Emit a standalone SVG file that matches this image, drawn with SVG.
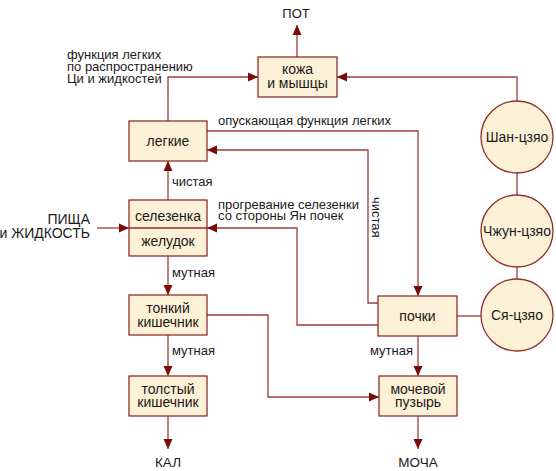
<svg xmlns="http://www.w3.org/2000/svg" width="556" height="471" viewBox="0 0 556 471">
<defs>
<marker id="arr" markerUnits="userSpaceOnUse" markerWidth="10" markerHeight="10" refX="10" refY="5" orient="auto">
<path d="M0,0.5 L10,5 L0,9.5 z" fill="#7a0a0a"/>
</marker>
<style>
.box{fill:#fcf1d6;stroke:#8f2f2f;stroke-width:1.3}
.c{fill:none;stroke:#9e3c3c;stroke-width:1.3}
.a{marker-end:url(#arr)}
text{font-family:"Liberation Sans",Arial,sans-serif;fill:#1a1a1a}
.n{font-size:14px;text-anchor:middle}
.l{font-size:13px}
.o{font-size:13.5px;text-anchor:middle}
.big{font-size:14px}
</style>
</defs>
<rect width="556" height="471" fill="#ffffff"/>
<g id="connectors">
<path class="c a" d="M297,57 V25"/>
<path class="c a" d="M517,101 V77 H337"/>
<path class="c a" d="M168,121 V77 H258"/>
<path class="c a" d="M207,131 H418 V296"/>
<path class="c a" d="M378,303 H368 V150 H207"/>
<path class="c a" d="M378,325 H297 V228 H207"/>
<path class="c a" d="M97,228 H129"/>
<path class="c a" d="M168,200 V161"/>
<path class="c a" d="M168,256 V295"/>
<path class="c a" d="M168,335 V376"/>
<path class="c a" d="M168,416 V449"/>
<path class="c a" d="M207,315 H268 V397 H379"/>
<path class="c a" d="M418,336 V376"/>
<path class="c a" d="M418,416 V449"/>
<path class="c" d="M457,316 H481"/>
<path class="c" d="M517,173 V195"/>
<path class="c" d="M517,267 V279"/>
<text class="l" x="67" y="59">функция легких</text>
<text class="l" x="67" y="71">по распространению</text>
<text class="l" x="67" y="83">Ци и жидкостей</text>
<text class="l" x="218" y="125">опускающая функция легких</text>
<text class="l" x="172" y="186">чистая</text>
<text class="l" x="218" y="208.5">прогревание селезенки</text>
<text class="l" x="218" y="220">со стороны Ян почек</text>
<text class="l" transform="translate(372,197) rotate(90)">чистая</text>
<text class="l" x="172" y="277">мутная</text>
<text class="l" x="172" y="355">мутная</text>
<text class="l" x="413" y="355" text-anchor="end">мутная</text>
<text class="big" x="90" y="224" text-anchor="end">ПИЩА</text>
<text class="big" x="90" y="238" text-anchor="end">и ЖИДКОСТЬ</text>
<text class="o" x="296" y="18" style="font-size:13px">ПОТ</text>
<text class="o" x="168" y="467">КАЛ</text>
<text class="o" x="418" y="467">МОЧА</text>
</g>
<g id="skin">
<rect class="box" x="258" y="57" width="79" height="40"/>
<text class="n" x="297.5" y="74">кожа</text>
<text class="n" x="297.5" y="87.5">и мышцы</text>
</g>
<g id="lungs">
<rect class="box" x="129" y="121" width="78" height="40"/>
<text class="n" x="168" y="145.5">легкие</text>
</g>
<g id="spleen">
<rect class="box" x="129" y="200" width="78" height="56"/>
<line x1="129" y1="228" x2="207" y2="228" stroke="#8f2f2f" stroke-width="1.3"/>
<text class="n" x="168" y="220.5">селезенка</text>
<text class="n" x="168" y="245.5">желудок</text>
</g>
<g id="small">
<rect class="box" x="129" y="295" width="78" height="40"/>
<text class="n" x="168" y="312.5">тонкий</text>
<text class="n" x="168" y="326.5">кишечник</text>
</g>
<g id="large">
<rect class="box" x="129" y="376" width="78" height="40"/>
<text class="n" x="168" y="393.5">толстый</text>
<text class="n" x="168" y="406.5">кишечник</text>
</g>
<g id="kidneys">
<rect class="box" x="378" y="296" width="79" height="40"/>
<text class="n" x="417.5" y="320.5">почки</text>
</g>
<g id="bladder">
<rect class="box" x="379" y="376" width="78" height="40"/>
<text class="n" x="418" y="393.5">мочевой</text>
<text class="n" x="418" y="406.5">пузырь</text>
</g>
<g id="shan">
<circle class="box" cx="517" cy="137" r="36"/>
<text class="n" x="517" y="142">Шан-цзяо</text>
</g>
<g id="zhong">
<circle class="box" cx="517" cy="231" r="36"/>
<text class="n" x="517" y="236">Чжун-цзяо</text>
</g>
<g id="xia">
<circle class="box" cx="517" cy="315" r="36"/>
<text class="n" x="517" y="320">Ся-цзяо</text>
</g>
</svg>
